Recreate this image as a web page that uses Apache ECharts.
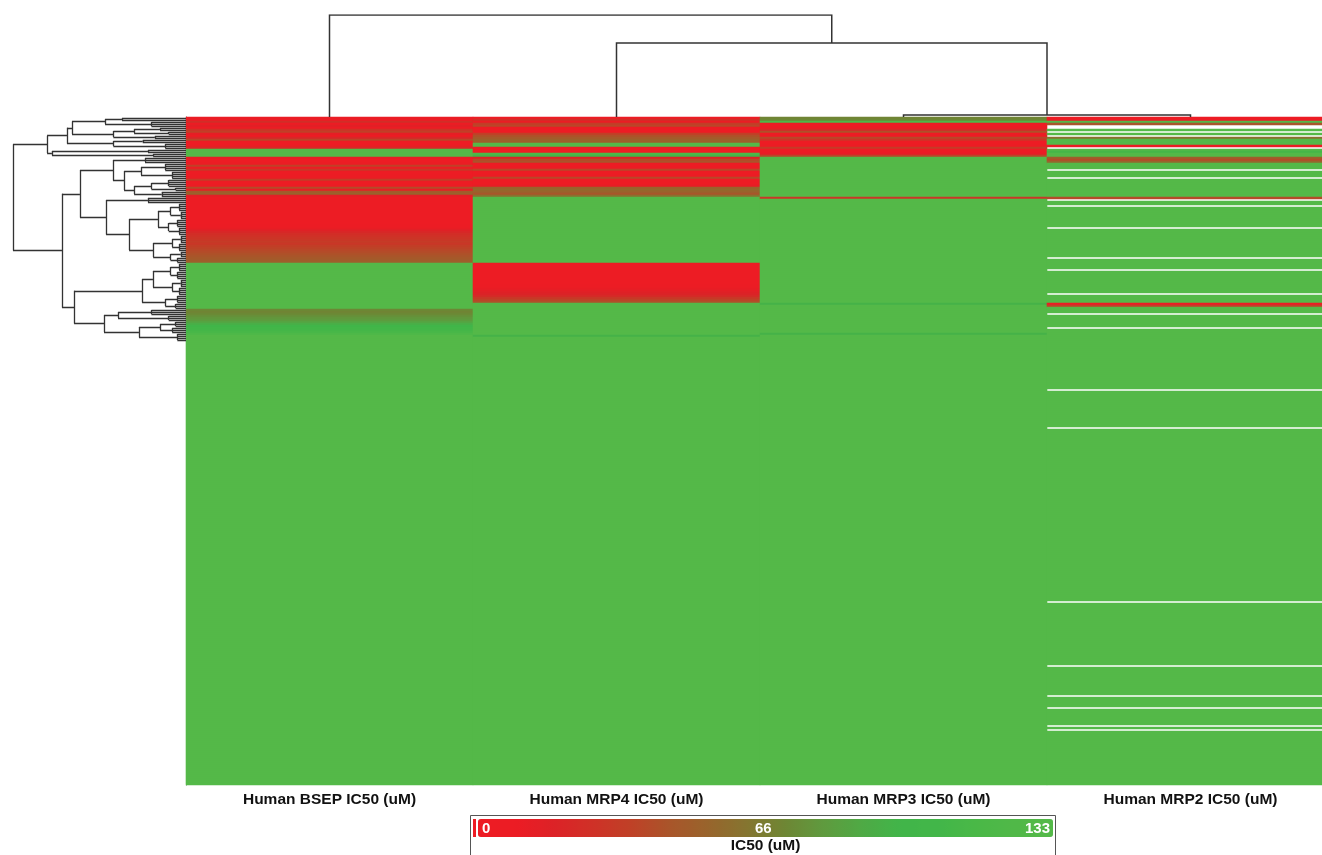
<!DOCTYPE html>
<html>
<head>
<meta charset="utf-8">
<script src="https://cdn.jsdelivr.net/npm/echarts@6/dist/echarts.min.js"></script>
<style>
html,body{margin:0;padding:0;background:#fff;}
#chart{width:1322px;height:855px;}
</style>
</head>
<body>
<div id="chart"></div>
<script>
// ---------------- DATA ----------------
const columns = ['Human BSEP IC50 (uM)', 'Human MRP4 IC50 (uM)', 'Human MRP3 IC50 (uM)', 'Human MRP2 IC50 (uM)'];

// IC50 values per compound row (top to bottom). A number = one row, [v, n] = n rows of v, null = missing.
const bsepRuns = [10,5,25,8,15,5,28,35,12,6,20,38,8,4,10,22,
  [133,4],
  12,4,3,6,35,8,30,5,3,6,10,34,9,4,6,40,12,48,52,14,
  3,2,1,0,0,0,1,0,0,1,2,1,3,2,6,10,15,20,24,26,28,30,32,30,34,36,38,40,42,44,46,48,50,
  [133,23],
  72,70,72,75,78,80,85,92,100,105,108,112,120,
  [133,225]];

const mrp4Runs = [8,25,10,34,38,6,4,6,34,42,47,52,50,133,133,8,2,3,120,100,
  18,38,44,6,4,6,38,6,3,5,38,2,1,2,12,52,56,52,45,60,
  [133,33],
  8,3,2,1,0,0,1,0,2,3,4,6,10,12,15,18,22,30,36,42,
  [133,16], 95, [133,224]];

const mrp3Runs = [70,72,120,5,3,8,22,42,3,5,38,28,4,2,6,32,3,5,12,38,
  [133,20], 30, [133,52], 95, [133,14], 95, [133,225]];

const mrp2Runs = [5,3,133,45,null,null,133,null,133,null,60,133,133,133,5,null,133,110,133,133,
  50,40,55, [133,3], null, [133,3], null, [133,9], 40, null, [133,2], null, [133,10], null,
  [133,14], null, [133,5], null, [133,11], null, [133,4], 5, 35, [133,3], null, [133,6], null,
  [133,30], null, [133,18], null, [133,86], null, [133,31], null, [133,14], null, [133,5], null,
  [133,8], null, 133, null, [133,27]];

const legendTicks = [0, 66, 133];
const valueRange = [0, 133];

// Column dendrogram (linkage: [left, right, height]); leaves 0..3 in display order
const colLinkage = [[2, 3, 0.02], [1, 4, 0.725], [0, 5, 1.0]];

// Row dendrogram: node(distance, ...children), grp(firstRow, lastRow, distance), number = single row
function node(d, ...kids) { return {d: d, kids: kids}; }
function grp(a, b, d) { return {d: d, rows: [a, b]}; }

const clusterA1 = node(0.688,
  node(0.659,
    node(0.468, grp(0, 1, 0.37), grp(2, 4, 0.2)),
    node(0.42, node(0.30, grp(5, 6, 0.15), grp(7, 8, 0.1)), grp(9, 10, 0.18))),
  node(0.42, grp(11, 12, 0.25), grp(13, 15, 0.12)));
const clusterA2 = node(0.775, grp(16, 17, 0.22), node(0.19, 18, 19));
const clusterA = node(0.803, clusterA1, clusterA2);
const clusterB1a = node(0.422, grp(20, 22, 0.237),
  node(0.358, node(0.26, grp(23, 26, 0.12), grp(27, 30, 0.08)),
    node(0.30, node(0.2, grp(31, 34, 0.1), grp(35, 36, 0.06)), grp(37, 39, 0.14))));
const clusterB1b = node(0.462, grp(40, 42, 0.22),
  node(0.329,
    node(0.162, node(0.09, grp(43, 46, 0.04), grp(47, 50, 0.03)), node(0.1, grp(51, 54, 0.05), grp(55, 58, 0.04))),
    node(0.19, node(0.08, grp(59, 62, 0.03), grp(63, 66, 0.04)), node(0.09, grp(67, 69, 0.03), grp(70, 72, 0.05)))));
const clusterB1 = node(0.613, clusterB1a, clusterB1b);
const clusterB2a = node(0.254,
  node(0.191, node(0.09, grp(73, 76, 0.04), grp(77, 80, 0.05)), node(0.08, grp(81, 84, 0.03), grp(85, 88, 0.04))),
  node(0.12, grp(89, 92, 0.05), grp(93, 95, 0.06)));
const clusterB2b = node(0.474,
  node(0.393, grp(96, 98, 0.2), grp(99, 101, 0.1)),
  node(0.272, node(0.15, grp(102, 104, 0.06), grp(105, 107, 0.08)), grp(108, 111, 0.05)));
const clusterB2 = node(0.647, clusterB2a, clusterB2b);
const clusterB = node(0.717, clusterB1, clusterB2);
const rowTree = node(1.0, clusterA, clusterB);

// ---------------- BUILD ----------------
function expand(runs) {
  const out = [];
  runs.forEach(function (r) {
    if (Array.isArray(r)) { for (let i = 0; i < r[1]; i++) out.push(r[0]); }
    else out.push(r);
  });
  return out;
}
const colValues = [expand(bsepRuns), expand(mrp4Runs), expand(mrp3Runs), expand(mrp2Runs)];
const nRows = colValues[0].length;
const rowIds = [];
for (let i = 0; i < nRows; i++) rowIds.push('C' + (i + 1));

const heatData = [];
colValues.forEach(function (vals, c) {
  vals.forEach(function (v, r) { if (v !== null) heatData.push([c, r, v]); });
});

// row dendrogram segments
const rowSegs = [];
function seg(x1, y1, x2, y2) { rowSegs.push({coords: [[x1, y1], [x2, y2]]}); }
function lay(n) {
  if (typeof n === 'number') return {y: n + 0.5, d: 0};
  if (n.rows) {
    const a = n.rows[0], b = n.rows[1];
    for (let r = a; r <= b; r++) seg(n.d, r + 0.5, 0, r + 0.5);
    seg(n.d, a + 0.5, n.d, b + 0.5);
    return {y: (a + b + 1) / 2, d: n.d};
  }
  const ch = n.kids.map(lay);
  let lo = Infinity, hi = -Infinity;
  ch.forEach(function (c) {
    seg(n.d, c.y, c.d, c.y);
    lo = Math.min(lo, c.y); hi = Math.max(hi, c.y);
  });
  seg(n.d, lo, n.d, hi);
  return {y: (lo + hi) / 2, d: n.d};
}
lay(rowTree);

// column dendrogram segments
const colSegs = [];
const colNodes = columns.map(function (_, i) { return {x: i + 0.5, h: 0}; });
colLinkage.forEach(function (m) {
  const a = colNodes[m[0]], b = colNodes[m[1]], h = m[2];
  colSegs.push({coords: [[a.x, a.h], [a.x, h], [b.x, h], [b.x, b.h]]});
  colNodes.push({x: (a.x + b.x) / 2, h: h});
});

// ---------------- CHART ----------------
const FONT = "'Liberation Sans', Arial, sans-serif";
const colorStops = ['#ed1c24', '#ec1c24', '#dc2227', '#cf3127', '#bf4127', '#a9552a', '#98642c', '#857530',
  '#6e8634', '#5f9a3e', '#4fa945', '#41b549', '#42b649', '#4ab847', '#50b848', '#54b948'];

const barLeft = 478, barTop = 819, barLen = 575, barThick = 18;
const graphics = [
  {type: 'rect', z: 100, shape: {x: 470.5, y: 815.5, width: 585, height: 50}, style: {fill: 'none', stroke: '#555', lineWidth: 1}},
  {type: 'rect', z: 100, shape: {x: 473, y: barTop, width: 3, height: barThick}, style: {fill: '#ed1c24'}},
  {type: 'text', z: 100, style: {text: 'IC50 (uM)', x: barLeft + barLen / 2, y: 846, textAlign: 'center', textVerticalAlign: 'middle',
    fill: '#111', font: 'bold 15.5px ' + FONT}}
];
legendTicks.forEach(function (t, i) {
  const x = barLeft + (t - valueRange[0]) / (valueRange[1] - valueRange[0]) * barLen;
  const align = i === 0 ? 'left' : (i === legendTicks.length - 1 ? 'right' : 'center');
  const dx = i === 0 ? 4 : (i === legendTicks.length - 1 ? -3 : 0);
  graphics.push({type: 'text', z: 100, style: {text: String(t), x: x + dx, y: barTop + barThick / 2 + 1,
    textAlign: align, textVerticalAlign: 'middle', fill: '#ffffff', font: 'bold 15px ' + FONT}});
});

const chart = echarts.init(document.getElementById('chart'), null, {renderer: 'canvas'});
chart.setOption({
  animation: false,
  backgroundColor: '#ffffff',
  grid: [
    {left: 186, top: 117, width: 1148, height: 668, outerBoundsMode: 'none', containLabel: false},
    {left: 13, top: 117, width: 173, height: 668, outerBoundsMode: 'none', containLabel: false},
    {left: 186, top: 15, width: 1148, height: 102, outerBoundsMode: 'none', containLabel: false}
  ],
  xAxis: [
    {type: 'category', gridIndex: 0, data: columns, position: 'bottom',
      axisLine: {show: false}, axisTick: {show: false}, splitLine: {show: false},
      axisLabel: {fontFamily: FONT, fontWeight: 'bold', fontSize: 15.5, color: '#111', margin: 7}},
    {type: 'value', gridIndex: 1, min: 0, max: 1, inverse: true, show: false},
    {type: 'value', gridIndex: 2, min: 0, max: columns.length, show: false}
  ],
  yAxis: [
    {type: 'category', gridIndex: 0, data: rowIds, inverse: true,
      axisLine: {show: true, lineStyle: {color: '#555', width: 1}}, axisTick: {show: false},
      axisLabel: {show: false}, splitLine: {show: false}},
    {type: 'value', gridIndex: 1, min: 0, max: nRows, inverse: true, show: false},
    {type: 'value', gridIndex: 2, min: 0, max: 1, show: false}
  ],
  visualMap: {
    type: 'continuous', seriesIndex: 0, min: valueRange[0], max: valueRange[1],
    orient: 'horizontal', left: barLeft, top: barTop, itemWidth: barThick, itemHeight: barLen,
    padding: 0, calculable: false, hoverLink: false, realtime: false,
    inRange: {color: colorStops}
  },
  series: [
    {type: 'heatmap', xAxisIndex: 0, yAxisIndex: 0, data: heatData, progressive: 0, silent: true,
      emphasis: {disabled: true}, itemStyle: {borderWidth: 0}},
    {type: 'lines', coordinateSystem: 'cartesian2d', xAxisIndex: 1, yAxisIndex: 1, polyline: false, silent: true,
      data: rowSegs, lineStyle: {color: '#333', width: 1.3, opacity: 1}},
    {type: 'lines', coordinateSystem: 'cartesian2d', xAxisIndex: 2, yAxisIndex: 2, polyline: true, silent: true,
      data: colSegs, lineStyle: {color: '#333', width: 1.5, opacity: 1}}
  ],
  graphic: graphics
});
</script>
</body>
</html>
